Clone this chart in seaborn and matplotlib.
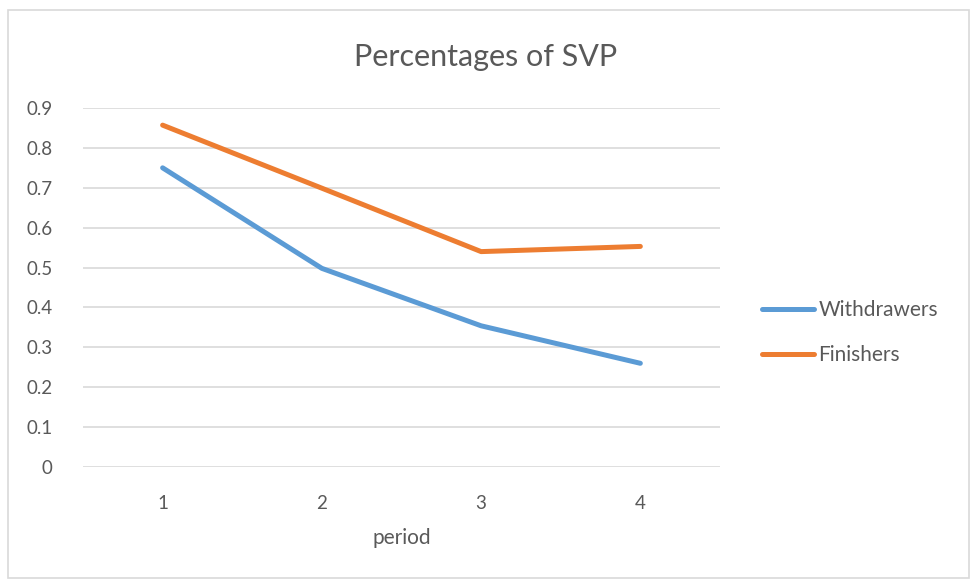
import matplotlib.pyplot as plt
import seaborn as sns
import pandas as pd
from matplotlib.patches import Rectangle

# Data
periods = [1, 2, 3, 4]
withdrawers = [0.75, 0.498, 0.354, 0.260]
finishers = [0.857, 0.699, 0.540, 0.553]
series_names = ["Withdrawers", "Finishers"]
colors = ["#5b9bd5", "#ed7d31"]

df = pd.DataFrame({
    "period": periods * 2,
    "value": withdrawers + finishers,
    "series": [series_names[0]] * 4 + [series_names[1]] * 4,
})

sns.set_theme(style="white")
plt.rcParams["font.family"] = ["Lato", "DejaVu Sans"]
text_color = "#595959"

fig = plt.figure(figsize=(9.72, 5.8), dpi=100)
ax = fig.add_axes([0.0854, 0.1948, 0.6553, 0.619])

sns.lineplot(data=df, x="period", y="value", hue="series",
             palette=colors, linewidth=3.6, ax=ax, legend=False,
             solid_capstyle="round", solid_joinstyle="round")

ax.set_xlim(0.5, 4.5)
ax.set_ylim(0, 0.9)
ax.set_xticks(periods)
ax.set_yticks([i / 10 for i in range(10)])
ax.set_yticklabels(["0"] + [f"0.{i}" for i in range(1, 10)])
ax.yaxis.grid(True, color="#d9d9d9", linewidth=1.2)
ax.xaxis.grid(False)
for s in ax.spines.values():
    s.set_visible(False)
ax.tick_params(axis="both", length=0, labelsize=13.5, labelcolor=text_color)
ax.tick_params(axis="y", pad=22)
ax.tick_params(axis="x", pad=20)
ax.set_xlabel("period", fontsize=15, color=text_color, labelpad=12)
ax.set_ylabel("")

fig.text(0.5, 0.902, "Percentages of SVP", ha="center", va="center",
         fontsize=22, color=text_color)

handles = [plt.Line2D([], [], color=c, linewidth=3.6, solid_capstyle="round")
           for c in colors]
fig.legend(handles, series_names, loc="center left",
           bbox_to_anchor=(0.765, 0.427), frameon=False, fontsize=15,
           labelcolor=text_color, handlelength=2.5, handletextpad=0.2,
           labelspacing=1.2)

fig.patches.append(Rectangle((8 / 972, 2 / 580), 961 / 972, 568 / 580,
                             transform=fig.transFigure, fill=False,
                             edgecolor="#d9d9d9", linewidth=1.2))

plt.savefig("out.png", dpi=100)
